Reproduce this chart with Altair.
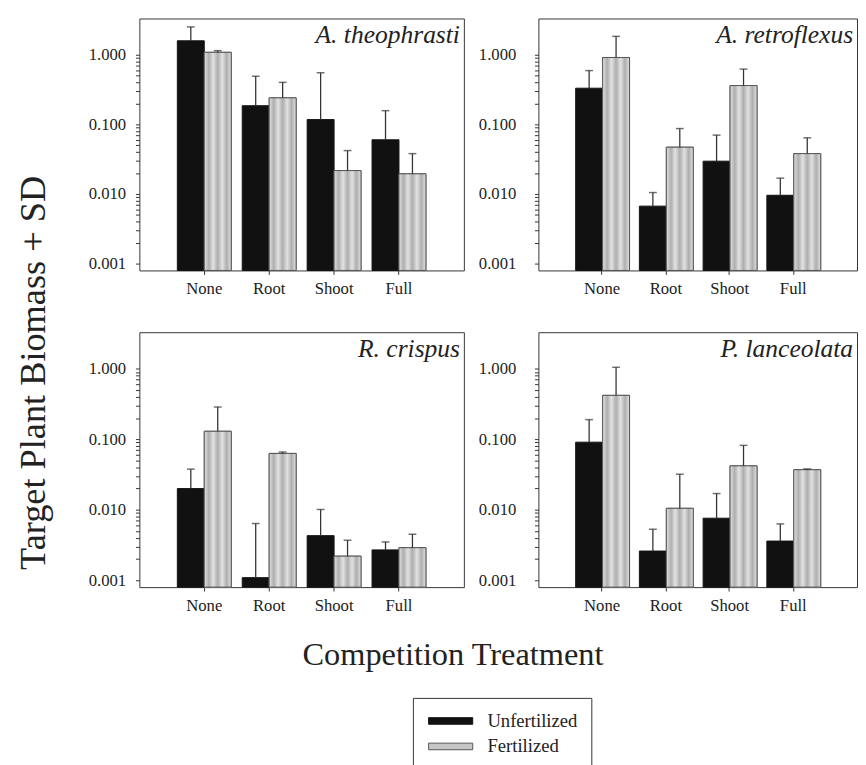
import altair as alt
import pandas as pd

treatments = ["None", "Root", "Shoot", "Full"]
fert_levels = ["Unfertilized", "Fertilized"]
species = ["A. theophrasti", "A. retroflexus", "R. crispus", "P. lanceolata"]

# A. theophrasti
theo_unfert_mean = [1.58, 0.185, 0.117, 0.060]
theo_unfert_sd = [0.92, 0.305, 0.433, 0.097]
theo_fert_mean = [1.08, 0.24, 0.0217, 0.0195]
theo_fert_sd = [0.06, 0.16, 0.0203, 0.0185]
# A. retroflexus
retro_unfert_mean = [0.33, 0.0067, 0.0296, 0.0096]
retro_unfert_sd = [0.26, 0.0038, 0.0404, 0.0073]
retro_fert_mean = [0.91, 0.047, 0.36, 0.038]
retro_fert_sd = [0.92, 0.040, 0.26, 0.026]
# R. crispus
crisp_unfert_mean = [0.020, 0.00109, 0.0043, 0.0027]
crisp_unfert_sd = [0.0177, 0.0053, 0.0058, 0.0008]
crisp_fert_mean = [0.130, 0.063, 0.0022, 0.0029]
crisp_fert_sd = [0.157, 0.003, 0.0015, 0.0016]
# P. lanceolata
lanc_unfert_mean = [0.091, 0.0026, 0.0076, 0.0036]
lanc_unfert_sd = [0.099, 0.0027, 0.0094, 0.0027]
lanc_fert_mean = [0.42, 0.0105, 0.042, 0.037]
lanc_fert_sd = [0.63, 0.0215, 0.040, 0.001]

series = {
    "A. theophrasti": (theo_unfert_mean, theo_unfert_sd, theo_fert_mean, theo_fert_sd),
    "A. retroflexus": (retro_unfert_mean, retro_unfert_sd, retro_fert_mean, retro_fert_sd),
    "R. crispus": (crisp_unfert_mean, crisp_unfert_sd, crisp_fert_mean, crisp_fert_sd),
    "P. lanceolata": (lanc_unfert_mean, lanc_unfert_sd, lanc_fert_mean, lanc_fert_sd),
}

rows = []
for sp in species:
    um, us, fm, fs = series[sp]
    for i, t in enumerate(treatments):
        rows.append({"species": sp, "treatment": t, "fert": "Unfertilized",
                     "mean": um[i], "top": um[i] + us[i]})
        rows.append({"species": sp, "treatment": t, "fert": "Fertilized",
                     "mean": fm[i], "top": fm[i] + fs[i]})
df = pd.DataFrame(rows)

SERIF = "Liberation Serif"
TXT = "#222222"
YMIN, YMAX = 0.0008, 3.3

decades = [0.001, 0.01, 0.1, 1.0]
minor_vals = [m * d for d in decades for m in range(1, 10) if m * d <= 1.0]
label_expr = ("datum.value == 0.001 || datum.value == 0.01 || datum.value == 0.1 || "
              "datum.value == 1 ? format(datum.value, '.3f') : ''")

LIGHT, DARK = "#e2e2e2", "#aeaeae"
dot_texture = alt.Gradient(
    gradient="linear", x1=0, x2=1, y1=0, y2=0,
    stops=[alt.GradientStop(offset=0.0, color=LIGHT),
           alt.GradientStop(offset=0.17, color=DARK),
           alt.GradientStop(offset=0.33, color=LIGHT),
           alt.GradientStop(offset=0.5, color=DARK),
           alt.GradientStop(offset=0.67, color=LIGHT),
           alt.GradientStop(offset=0.83, color=DARK),
           alt.GradientStop(offset=1.0, color=LIGHT)])


def panel(sp, w, h, label_pad, show_legend):
    d = df[df.species == sp]
    base = alt.Chart(d).properties(width=w, height=h)
    x = alt.X("treatment:N", sort=treatments,
              scale=alt.Scale(paddingInner=0.17, paddingOuter=0.585),
              axis=alt.Axis(title=None, labelAngle=0, tickSize=4, labelPadding=7,
                            domain=False, tickColor="#333333",
                            labelFont=SERIF, labelFontSize=17, labelColor=TXT))
    xo = alt.XOffset("fert:N", sort=fert_levels,
                     scale=alt.Scale(domain=fert_levels, paddingInner=0, paddingOuter=0))
    yscale = alt.Scale(type="log", domain=[YMIN, YMAX], nice=False, clamp=True)
    y = alt.Y("mean:Q", scale=yscale,
              axis=alt.Axis(title=None, values=minor_vals, labelExpr=label_expr,
                            labelOverlap=False, tickSize=4, labelPadding=label_pad,
                            domain=False, tickColor="#333333", grid=False,
                            labelFont=SERIF, labelFontSize=17, labelColor=TXT))
    legend = None
    if show_legend:
        legend = alt.Legend(title=None, orient="none", legendX=279, legendY=693,
                            symbolType="M-1,-0.45L5,-0.45L5,0.45L-1,0.45Z",
                            symbolSize=225, symbolStrokeWidth=1,
                            labelFont=SERIF, labelFontSize=19, labelColor=TXT,
                            labelOffset=43, rowPadding=6, padding=14,
                            strokeColor="#333333", fillColor="white")
    fill = alt.Fill("fert:N", sort=fert_levels,
                    scale=alt.Scale(domain=fert_levels, range=["#111111", "#c6c6c6"]),
                    legend=legend)
    stroke = alt.Stroke("fert:N", sort=fert_levels,
                        scale=alt.Scale(domain=fert_levels, range=["#111111", "#555555"]),
                        legend=legend)
    bars = base.mark_bar(strokeWidth=1).encode(
        x=x, xOffset=xo, y=y, y2=alt.datum(YMIN), fill=fill, stroke=stroke)
    texture = base.transform_filter(alt.datum.fert == "Fertilized").mark_bar(
        fill=dot_texture, stroke="#555555", strokeWidth=1).encode(
        x=x, xOffset=xo, y=alt.Y("mean:Q"), y2=alt.datum(YMIN))
    err = base.mark_rule(color="#333333", strokeWidth=1.3).encode(
        x=x, xOffset=xo, y=alt.Y("mean:Q"), y2="top:Q")
    cap = base.mark_tick(color="#333333", thickness=1.5, size=8, orient="horizontal").encode(
        x=x, xOffset=xo, y=alt.Y("top:Q"))
    name = alt.Chart(pd.DataFrame({"name": [sp]})).mark_text(
        align="right", baseline="alphabetic", font=SERIF, fontSize=26,
        fontStyle="italic", color=TXT).encode(
        text="name:N", x=alt.value(w - 4), y=alt.value(25))
    return alt.layer(bars, texture, err, cap, name)


p1 = panel(species[0], 331, 257, 10, True)
p2 = panel(species[1], 325, 257, 19, False)
p3 = panel(species[2], 331, 260, 10, False)
p4 = panel(species[3], 325, 260, 19, False)

row1 = alt.hconcat(p1, p2, spacing=13)
row2 = alt.hconcat(p3, p4, spacing=13).properties(
    title=alt.Title("Competition Treatment", orient="bottom", anchor="middle",
                    offset=26, dx=-20, font=SERIF, fontSize=33,
                    fontWeight="normal", color=TXT))

chart = alt.vconcat(row1, row2, spacing=34).properties(
    title=alt.Title("Target Plant Biomass + SD", orient="left", anchor="middle",
                    offset=36, dx=22, font=SERIF, fontSize=37, fontWeight="normal",
                    color=TXT),
    padding={"left": 7, "top": 2, "right": 0, "bottom": 0},
).configure(background="white").configure_view(
    stroke="#333333", strokeWidth=1
).configure_axis(labelFont=SERIF, labelFontSize=17, labelColor=TXT)

chart.save("out.html", embed_options={"renderer": "svg", "actions": False})
